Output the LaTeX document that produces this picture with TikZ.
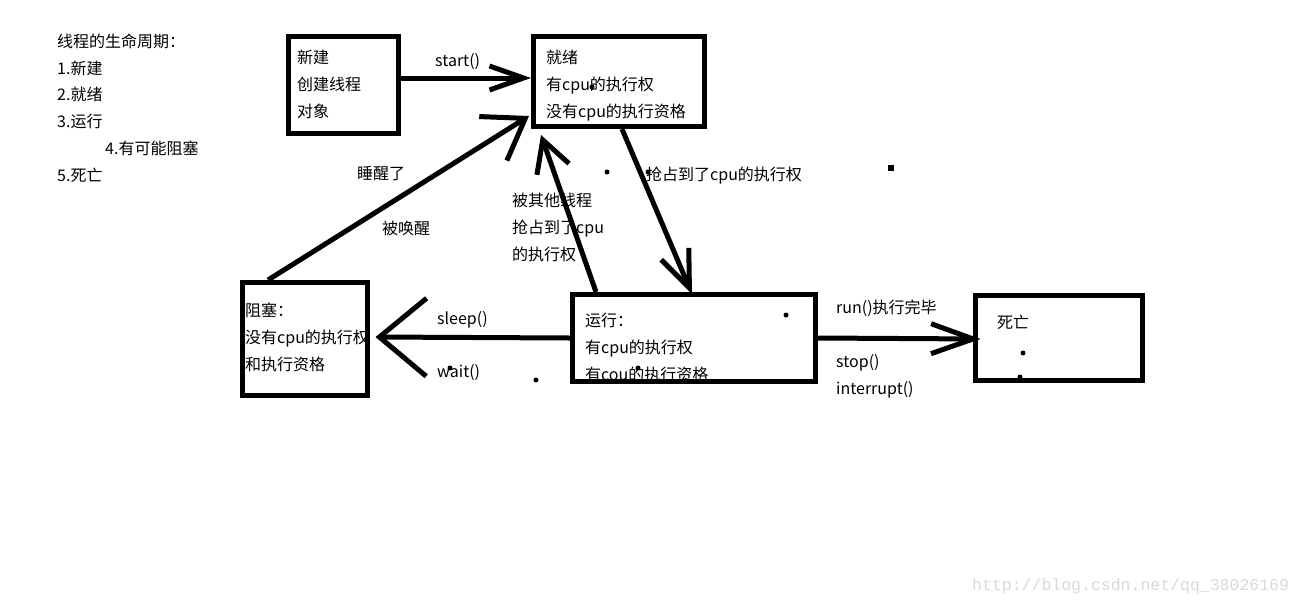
\documentclass[tikz,border=0pt]{standalone}
\usepackage{fontspec}
\setmainfont{Noto Sans CJK SC}
\newfontfamily\markfont{Liberation Mono}
\usetikzlibrary{arrows.meta}
\definecolor{markgray}{RGB}{218,218,212}

\begin{document}
\begin{tikzpicture}[x=1pt,y=-1pt,
    box/.style={draw,line width=5pt,inner sep=0pt},
    txt/.style={anchor=west,inner sep=0pt,yshift=-1.5pt,align=left,font=\fontsize{16}{26.7}\selectfont},
    arr/.style 2 args={line width=5pt,-{Straight Barb[length=#1pt,width=#2pt]}}]
  \fill[white] (0,0) rectangle (1302,606);
  \useasboundingbox (0,0) rectangle (1302,606);
  % states
  \node[box,minimum width=110pt,minimum height=97pt] (xinjian) at (343.5,85) {};
  \node[box,minimum width=171pt,minimum height=90pt] (jiuxu) at (619,81.5) {};
  \node[box,minimum width=125pt,minimum height=113pt] (zuse) at (305,339) {};
  \node[box,minimum width=243pt,minimum height=87pt] (yunxing) at (694,338) {};
  \node[box,minimum width=167pt,minimum height=85pt] (siwang) at (1059,338) {};
  \node[txt] (xinjiantxt) at (297,83) {新建\\创建线程\\对象};
  \node[txt] (jiuxutxt) at (546,84) {就绪\\有cpu的执行权\\没有cpu的执行资格};
  \node[txt] (zusetxt) at (245,336) {阻塞：\\没有cpu的执行权\\和执行资格};
  \node[txt] (yunxingtxt) at (585,346) {运行：\\有cpu的执行权\\有cou的执行资格};
  \node[txt] (siwangtxt) at (997,321) {死亡};
  % legend
  \node[txt] (legend) at (57,106.5) {线程的生命周期：\\1.新建\\2.就绪\\3.运行\\\hspace*{48pt}4.有可能阻塞\\5.死亡};
  % transitions
  \draw[arr={34}{24}] ([shift={(0,-7)}]xinjian.east) -- ([shift={(0,-3.5)}]jiuxu.west);
  \draw[arr={38}{52}] ([shift={(-37,0)}]zuse.north) -- ([shift={(-2,-13)}]jiuxu.south west);
  \draw[arr={31}{34}] ([shift={(26,0)}]yunxing.north west) -- ([shift={(10,6)}]jiuxu.south west);
  \draw[arr={37}{30}] ([shift={(3,0)}]jiuxu.south) -- ([shift={(-2,2)}]yunxing.north);
  \draw[arr={47}{78}] (yunxing.west) -- ([shift={(5.5,-2)}]zuse.east);
  \draw[arr={42}{30}] (yunxing.east) -- ([shift={(7.5,1)}]siwang.west);
  % labels
  \node[txt] (start) at (435,60) {start()};
  \node[txt] (shuixing) at (357,172) {睡醒了};
  \node[txt] (huanxing) at (382,227) {被唤醒};
  \node[txt] (beiqiang) at (512,226) {被其他线程\\抢占到了cpu\\的执行权};
  \node[txt] (qiangdao) at (646,174) {抢占到了cpu的执行权};
  \node[txt] (sleep) at (437,318) {sleep()};
  \node[txt] (wait) at (437,371) {wait()};
  \node[txt] (runend) at (836,307) {run()执行完毕};
  \node[txt] (stop) at (836,374.5) {stop()\\interrupt()};
  \node[anchor=west,inner sep=0pt,font=\markfont\fontsize{16.5}{18}\selectfont,text=markgray] (mark) at (972,586) {http://blog.csdn.net/qq\_38026169};
  % stray dots
  \foreach \p in {(592,87),(607,172),(648,172),(786,315),(450,368),(536,380),(638,368),(1023,353),(1020,377)}
    \fill \p circle (2.5);
  \fill (888,165) rectangle (894,171);
\end{tikzpicture}
\end{document}
